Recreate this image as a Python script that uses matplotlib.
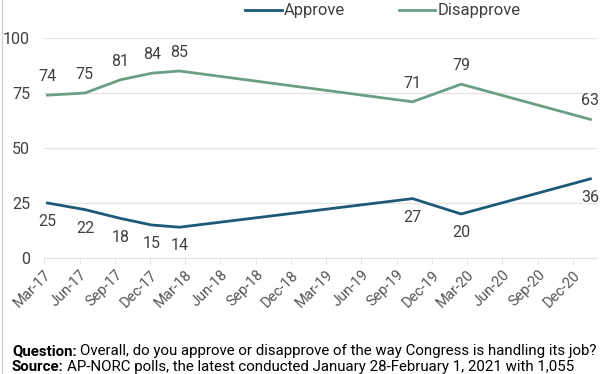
import matplotlib
matplotlib.use("Agg")
import matplotlib.pyplot as plt
import matplotlib.transforms as mtransforms
from datetime import datetime

plt.rcParams["font.family"] = ["Roboto", "DejaVu Sans"]

# Poll dates and results
dates = ["2017-03-10", "2017-06-15", "2017-09-15", "2017-12-05",
         "2018-02-15", "2019-10-12", "2020-02-15", "2021-01-15"]
approve = [25, 22, 18, 15, 14, 27, 20, 36]
disapprove = [74, 75, 81, 84, 85, 71, 79, 63]
tick_labels = ["Mar-17", "Jun-17", "Sep-17", "Dec-17", "Mar-18", "Jun-18",
               "Sep-18", "Dec-18", "Mar-19", "Jun-19", "Sep-19", "Dec-19",
               "Mar-20", "Jun-20", "Sep-20", "Dec-20"]

APPROVE_COLOR = "#1c5a78"
DISAPPROVE_COLOR = "#6b9f85"
TEXT_COLOR = "#404040"
GRID_COLOR = "#e3e3e3"

x = [datetime.strptime(d, "%Y-%m-%d") for d in dates]
tick_dates = [datetime.strptime(t, "%b-%y") for t in tick_labels]

fig = plt.figure(figsize=(6.12, 3.74), dpi=100)
ax = fig.add_axes([44 / 612, 1 - 258 / 374, 553 / 612, 220 / 374])

ax.plot(x, approve, color=APPROVE_COLOR, lw=2.0)
ax.plot(x, disapprove, color=DISAPPROVE_COLOR, lw=2.0)

# data labels: disapprove above, approve below
for xi, v in zip(x, disapprove):
    ax.annotate(str(v), (xi, v), xytext=(0, 8), textcoords="offset points",
                ha="center", va="bottom", fontsize=11.5, color=TEXT_COLOR)
for xi, v in zip(x, approve):
    ax.annotate(str(v), (xi, v), xytext=(0, -8), textcoords="offset points",
                ha="center", va="top", fontsize=11.5, color=TEXT_COLOR)

ax.set_ylim(0, 100)
ax.set_yticks([0, 25, 50, 75, 100])
ax.set_xlim(datetime(2017, 3, 1), datetime(2021, 2, 1))
ax.set_xticks(tick_dates)
ax.set_xticklabels(tick_labels, rotation=45, ha="right", rotation_mode="anchor")
# Excel puts the rotated label a bit right of its tick
shift = mtransforms.ScaledTranslation(6 / 100, 0, fig.dpi_scale_trans)
for lab in ax.get_xticklabels():
    lab.set_transform(lab.get_transform() + shift)

ax.grid(axis="y", color=GRID_COLOR, lw=0.8)
ax.set_axisbelow(True)
for s in ["top", "right", "left"]:
    ax.spines[s].set_visible(False)
ax.spines["bottom"].set_color(GRID_COLOR)
ax.tick_params(axis="y", length=0, pad=10, labelsize=11.5, labelcolor=TEXT_COLOR)
ax.tick_params(axis="x", length=4, color=GRID_COLOR, pad=3,
               labelsize=10.5, labelcolor="#555555")

# Legend at top
fig.legend(handles=ax.lines, labels=["Approve", "Disapprove"],
           loc="center", bbox_to_anchor=(383 / 612, 1 - 11 / 374), ncol=2,
           frameon=False, fontsize=12, labelcolor=TEXT_COLOR,
           handlelength=2.2, handletextpad=0.15, columnspacing=3.2)

# thin frame line on the left edge
fig.add_artist(plt.Line2D([2 / 612, 2 / 612], [0, 1], transform=fig.transFigure,
                          color="#d0d0d0", lw=1))

# Notes
def note(y, head, body):
    t = fig.text(12 / 612, 1 - y / 374, head, fontsize=10.8,
                 fontweight="bold", color="black", va="center")
    fig.canvas.draw()
    bb = t.get_window_extent()
    fig.text(bb.x1 / fig.bbox.width + 0.005, 1 - y / 374, body,
             fontsize=10.8, color="black", va="center")

note(351, "Question:",
     "Overall, do you approve or disapprove of the way Congress is handling its job?")
note(367, "Source:",
     "AP-NORC polls, the latest conducted January 28-February 1, 2021 with 1,055")

fig.savefig("out.png", dpi=100)
